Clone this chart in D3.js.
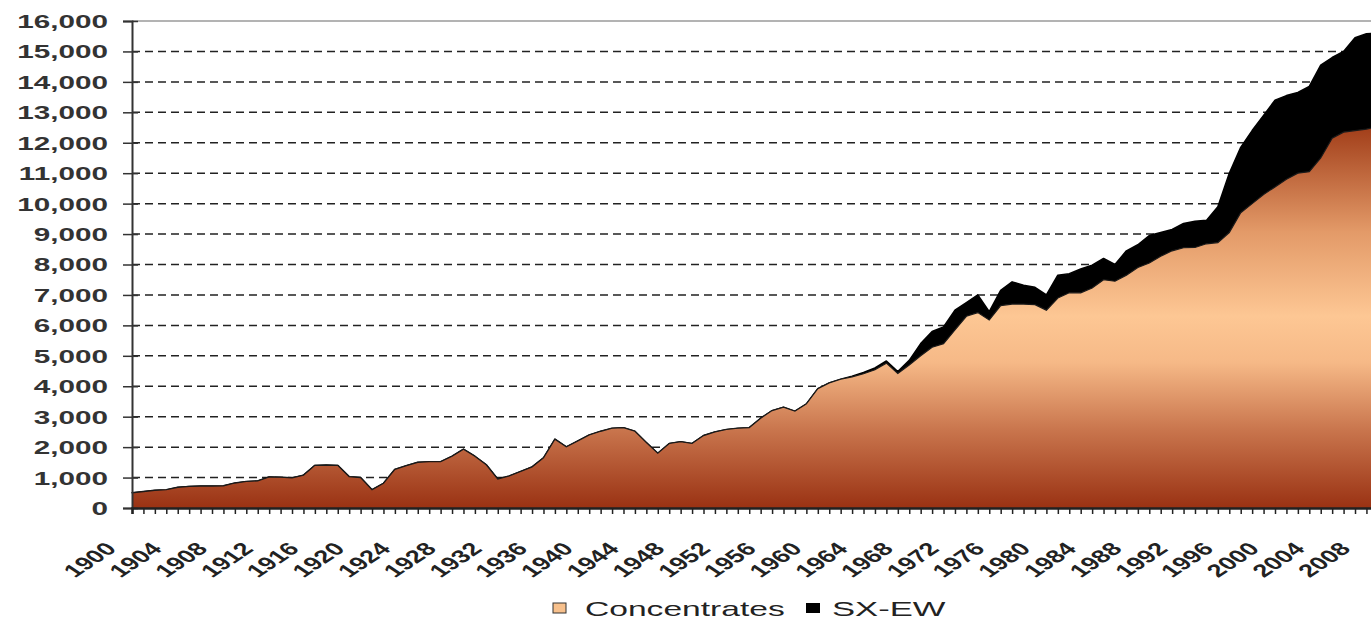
<html lang="en">
<head>
<meta charset="UTF-8">
<title>Copper production</title>
<style>
  body { margin: 0; background: #fff; }
  text { font-family: Arial, "Liberation Sans", sans-serif; }
</style>
</head>
<body>
<script src="https://d3js.org/d3.v7.min.js"></script>
<div id="chart"></div>
<script>
// years 1900..2009
var years = d3.range(1900, 2010);

// Concentrates, thousand tonnes
var concentrates = [
  500, 540, 580, 600, 680, 710, 720, 720, 730, 820,
  870, 890, 1020, 1010, 990, 1080, 1400, 1410, 1400, 1030,
  1000, 600, 810, 1270, 1390, 1500, 1520, 1520, 1700, 1930,
  1700, 1420, 950, 1050, 1200, 1350, 1650, 2260, 2010, 2200,
  2400, 2520, 2620, 2640, 2520, 2150, 1800, 2120, 2180, 2120,
  2380, 2500, 2580, 2620, 2640, 2950, 3200, 3310, 3180, 3420,
  3920, 4110, 4230, 4310, 4410, 4540, 4760, 4420, 4700, 5000,
  5280, 5400, 5850, 6300, 6420, 6180, 6650, 6700, 6700, 6680,
  6500, 6900, 7070, 7070, 7230, 7500, 7450, 7650, 7900, 8050,
  8270, 8450, 8550, 8560, 8680, 8720, 9050, 9700, 10000, 10300,
  10550, 10800, 11000, 11050, 11500, 12150, 12350, 12400, 12450, 12530
];

// SX-EW, thousand tonnes
var sxew = [
  0, 0, 0, 0, 0, 0, 0, 0, 0, 0,
  0, 0, 0, 0, 0, 0, 0, 0, 0, 0,
  0, 0, 0, 0, 0, 0, 0, 0, 0, 0,
  0, 0, 0, 0, 0, 0, 0, 0, 0, 0,
  0, 0, 0, 0, 0, 0, 0, 0, 0, 0,
  0, 0, 0, 0, 0, 0, 0, 0, 0, 0,
  0, 0, 0, 20, 40, 60, 70, 60, 150, 400,
  520, 550, 650, 450, 580, 270, 500, 730, 620, 570,
  500, 750, 630, 780, 750, 700, 550, 800, 750, 900,
  780, 700, 800, 860, 770, 1180, 1950, 2150, 2400, 2600,
  2850, 2750, 2650, 2800, 3050, 2650, 2650, 3050, 3130, 3070
];

var yTicks = d3.range(0, 16001, 1000);
var xLabelEvery = 4;
var seriesNames = ["Concentrates", "SX-EW"];

var W = 1371, H = 620;
var plotLeft = 132, plotTop = 21, plotBottom = 508;

var svg = d3.select("#chart").append("svg")
  .attr("width", W).attr("height", H);

var defs = svg.append("defs");
var x = d3.scaleLinear().domain([1900, 2009]).range([plotLeft, plotLeft + 109 * 11.43]);
var y = d3.scaleLinear().domain([0, 16000]).range([plotBottom, plotTop]);

// gradient for concentrates
var grad = defs.append("linearGradient")
  .attr("id", "conc").attr("gradientUnits", "userSpaceOnUse")
  .attr("x1", 0).attr("x2", 0).attr("y1", y(12600)).attr("y2", plotBottom);
[[0, "#a03c18"], [0.28, "#e39a68"], [0.5, "#fdc794"], [0.62, "#f6b987"],
 [0.8, "#c8744c"], [1, "#9a3213"]].forEach(function(s) {
  grad.append("stop").attr("offset", s[0]).attr("stop-color", s[1]);
});

// gridlines
svg.append("g").selectAll("line")
  .data(yTicks.filter(function(d) { return d > 0 && d < 16000; }))
  .enter().append("line")
    .attr("x1", plotLeft).attr("x2", W)
    .attr("y1", function(d) { return y(d); })
    .attr("y2", function(d) { return y(d); })
    .attr("stroke", "#222").attr("stroke-width", 1.5)
    .attr("stroke-dasharray", "8,5");

// top border
svg.append("line")
  .attr("x1", plotLeft).attr("x2", W).attr("y1", y(16000)).attr("y2", y(16000))
  .attr("stroke", "#9a9a9a").attr("stroke-width", 1.5);

// stacked data
var table = years.map(function(yr, i) {
  return { year: yr, "Concentrates": concentrates[i], "SX-EW": sxew[i] };
});
var stacked = d3.stack().keys(seriesNames)(table);

var area = d3.area()
  .x(function(d) { return x(d.data.year); })
  .y0(function(d) { return y(d[0]); })
  .y1(function(d) { return y(d[1]); });

svg.append("path")
  .datum(stacked[1])
  .attr("d", area)
  .attr("fill", "#000").attr("stroke", "#000").attr("stroke-width", 1.5)
  .attr("stroke-linejoin", "round");

svg.append("path")
  .datum(stacked[0])
  .attr("d", area)
  .attr("fill", "url(#conc)");

svg.append("path")
  .datum(stacked[0])
  .attr("d", d3.line()
    .x(function(d) { return x(d.data.year); })
    .y(function(d) { return y(d[1]); }))
  .attr("fill", "none").attr("stroke", "#1a1a1a").attr("stroke-width", 1.2);

// y axis
var yAxis = svg.append("g")
  .attr("transform", "translate(" + plotLeft + ",0)")
  .call(d3.axisLeft(y).tickValues(yTicks).tickFormat(d3.format(",")).tickSize(9));
yAxis.select(".domain").attr("stroke", "#333").attr("stroke-width", 2);
yAxis.selectAll(".tick line").attr("stroke", "#333").attr("stroke-width", 1.5).attr("x2", -9).attr("x1", 6);
yAxis.selectAll("text")
  .attr("x", 0).attr("dy", "0.36em")
  .attr("transform", "translate(-24,0) scale(1.65,1)")
  .attr("font-size", 18).attr("font-weight", "bold").attr("fill", "#333");

// x axis
var xAxis = svg.append("g")
  .attr("transform", "translate(0," + plotBottom + ")")
  .call(d3.axisBottom(x).tickValues(years)
    .tickFormat(function(d) { return (d - 1900) % xLabelEvery === 0 ? d : ""; })
    .tickSize(6));
xAxis.select(".domain").attr("stroke", "#222").attr("stroke-width", 2.5);
xAxis.selectAll(".tick line").attr("stroke", "#222").attr("stroke-width", 1.5);
xAxis.selectAll("text")
  .attr("x", 0).attr("y", 0).attr("dy", 0)
  .style("text-anchor", "end")
  .attr("transform", "translate(-15,42) scale(1.5,1) rotate(-45)")
  .attr("font-size", 18).attr("font-weight", "bold").attr("fill", "#222");

// legend
var legend = svg.append("g");
legend.append("rect").attr("x", 553).attr("y", 603).attr("width", 13).attr("height", 10)
  .attr("fill", "#f7c08c").attr("stroke", "#333").attr("stroke-width", 1);
legend.append("text")
  .attr("transform", "translate(585,616) scale(1.6,1)")
  .attr("font-size", 21).attr("fill", "#222").text(seriesNames[0]);
legend.append("rect").attr("x", 806).attr("y", 603).attr("width", 14).attr("height", 10)
  .attr("fill", "#000");
legend.append("text")
  .attr("transform", "translate(832,616) scale(1.65,1)")
  .attr("font-size", 21).attr("fill", "#222").text(seriesNames[1]);
</script>
</body>
</html>
